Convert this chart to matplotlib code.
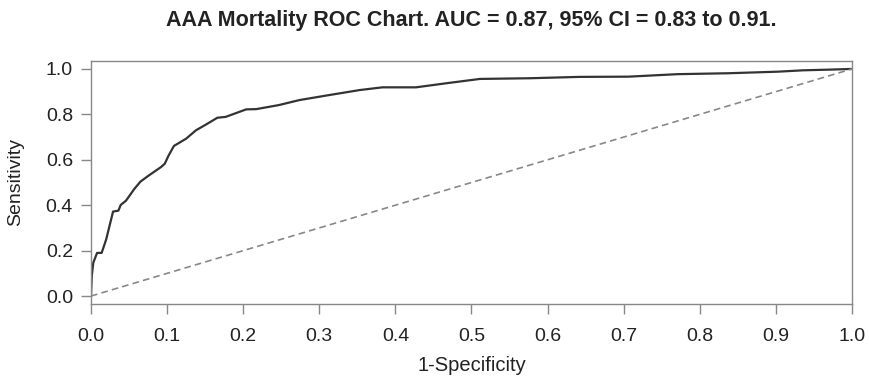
import matplotlib
matplotlib.use('Agg')
import matplotlib.pyplot as plt

plt.rcParams['font.family'] = ['Liberation Sans', 'DejaVu Sans']

# ROC curve
fpr = [0.0, 0.001, 0.003, 0.008, 0.014, 0.020, 0.029, 0.036, 0.039, 0.046,
       0.057, 0.065, 0.076, 0.092, 0.097, 0.102, 0.109, 0.125, 0.138, 0.151,
       0.166, 0.177, 0.204, 0.217, 0.247, 0.274, 0.313, 0.353, 0.383, 0.427,
       0.467, 0.511, 0.576, 0.642, 0.706, 0.771, 0.837, 0.903, 0.936, 0.971, 1.0]
tpr = [0.0, 0.088, 0.147, 0.190, 0.190, 0.250, 0.372, 0.376, 0.401, 0.420,
       0.472, 0.504, 0.531, 0.568, 0.583, 0.619, 0.661, 0.693, 0.730, 0.755,
       0.785, 0.789, 0.822, 0.823, 0.841, 0.863, 0.885, 0.907, 0.919, 0.919,
       0.937, 0.956, 0.959, 0.965, 0.966, 0.977, 0.981, 0.988, 0.994, 0.997, 1.0]
chance = [0.0, 1.0]
ticks = [0.0, 0.1, 0.2, 0.3, 0.4, 0.5, 0.6, 0.7, 0.8, 0.9, 1.0]
yticks = [0.0, 0.2, 0.4, 0.6, 0.8, 1.0]

fig = plt.figure(figsize=(8.7, 3.8), dpi=100)
ax = fig.add_axes([0.1046, 0.2, 0.8747, 0.6395])

ax.plot(fpr, tpr, color='#333333', linewidth=1.6)
ax.plot(chance, chance, color='#888888', linewidth=1.2, linestyle=(0, (4, 2.5)))

ax.set_xlim(0, 1)
ax.set_ylim(-0.035, 1.035)
ax.set_xticks(ticks)
ax.set_xticklabels([f'{t:.1f}' for t in ticks])
ax.set_yticks(yticks)
ax.set_yticklabels([f'{t:.1f}' for t in yticks])

for s in ax.spines.values():
    s.set_color('#888888')
    s.set_linewidth(1.0)
ax.tick_params(direction='out', length=7, width=1.0, color='#888888',
               labelsize=14, labelcolor='#222222')
ax.tick_params(axis='x', pad=10)
ax.tick_params(axis='y', pad=6)

ax.set_xlabel('1-Specificity', fontsize=14.5, color='#222222', labelpad=8)
ax.set_ylabel('Sensitivity', fontsize=14, color='#222222')
ax.yaxis.set_label_coords(-0.088, 0.5)
fig.text(0.542, 0.945, 'AAA Mortality ROC Chart. AUC = 0.87, 95% CI = 0.83 to 0.91.',
         ha='center', va='center', fontsize=15.5, fontweight='bold', color='#222222')

fig.savefig('out.png', dpi=100)
